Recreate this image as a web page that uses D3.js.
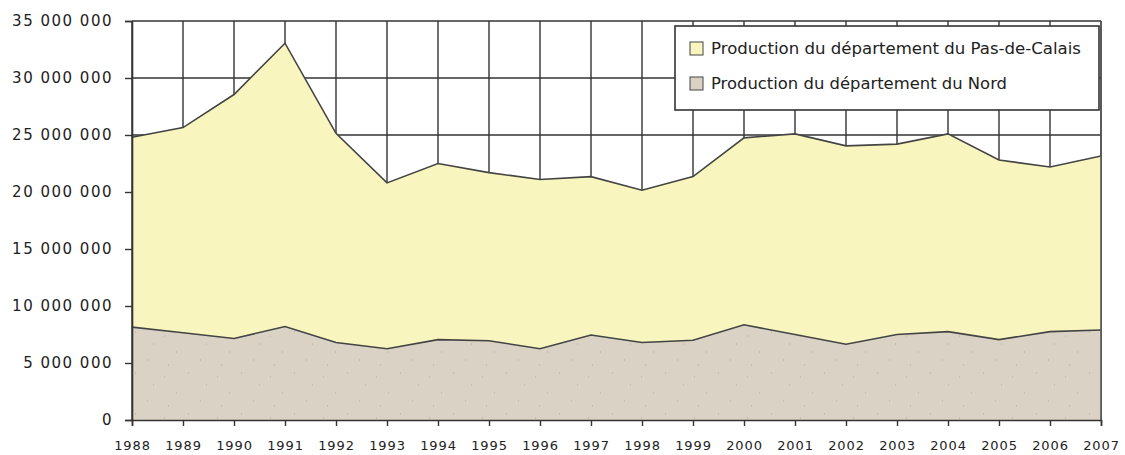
<!DOCTYPE html>
<html>
<head>
    <meta charset="utf-8">
    <title>Production Nord / Pas-de-Calais</title>
    <script src="https://d3js.org/d3.v7.min.js"></script>
    <style>
        body { margin: 0; background: #fff; }
        #chart { width: 1125px; height: 455px; }
        text { font-family: "DejaVu Sans", sans-serif; fill: #222; }
    </style>
</head>
<body>
    <div id="chart"></div>

    <script>
        // values
        const years = [1988, 1989, 1990, 1991, 1992, 1993, 1994, 1995, 1996, 1997,
                       1998, 1999, 2000, 2001, 2002, 2003, 2004, 2005, 2006, 2007];
        const nord = [8150000, 7650000, 7150000, 8200000, 6800000, 6250000, 7050000, 6950000, 6250000, 7450000,
                      6800000, 7000000, 8350000, 7500000, 6650000, 7500000, 7750000, 7050000, 7750000, 7900000];
        const pasDeCalais = [16650000, 18000000, 21400000, 24850000, 18350000, 14550000, 15450000, 14750000, 14850000, 13900000,
                             13350000, 14350000, 16400000, 17600000, 17400000, 16700000, 17350000, 15750000, 14450000, 15250000];
        const yTicks = [0, 5000000, 10000000, 15000000, 20000000, 25000000, 30000000, 35000000];
        const legendLabels = ["Production du département du Pas-de-Calais", "Production du département du Nord"];

        const width = 1125, height = 455;
        const margin = {left: 132, right: 24, top: 21, bottom: 35};

        const svg = d3.select("#chart").append("svg")
            .attr("width", width)
            .attr("height", height);

        const x = d3.scaleLinear()
            .domain([years[0], years[years.length - 1]])
            .range([margin.left, width - margin.right]);

        const y = d3.scaleLinear()
            .domain([0, 35000000])
            .range([height - margin.bottom, margin.top]);

        const fmt = v => d3.format(",")(v).replace(/,/g, " ");

        // grid (hidden under the areas)
        svg.append("g").selectAll("line.v")
            .data(years)
            .join("line")
            .attr("x1", d => x(d)).attr("x2", d => x(d))
            .attr("y1", y(35000000)).attr("y2", y(0))
            .attr("stroke", "#333").attr("stroke-width", 1.4);
        svg.append("g").selectAll("line.h")
            .data(yTicks)
            .join("line")
            .attr("x1", margin.left).attr("x2", width - margin.right)
            .attr("y1", d => y(d)).attr("y2", d => y(d))
            .attr("stroke", "#333").attr("stroke-width", 1.4);

        // stacked areas
        const table = years.map((yr, i) => ({year: yr, nord: nord[i], pdc: pasDeCalais[i]}));
        const series = d3.stack().keys(["nord", "pdc"])(table);
        const fills = {nord: "#dad2c4", pdc: "#f8f6be"};

        const area = d3.area()
            .x(d => x(d.data.year))
            .y0(d => y(d[0]))
            .y1(d => y(d[1]));
        const topLine = d3.line()
            .x(d => x(d.data.year))
            .y(d => y(d[1]));

        svg.append("g").selectAll("path")
            .data(series)
            .join("path")
            .attr("d", area)
            .attr("fill", d => fills[d.key]);

        // faint speckles on the Nord area, like the paper texture
        const defs = svg.append("defs");
        const pat = defs.append("pattern")
            .attr("id", "speck").attr("patternUnits", "userSpaceOnUse")
            .attr("width", 53).attr("height", 41);
        pat.append("rect").attr("width", 53).attr("height", 41).attr("fill", "#dad2c4");
        [[5, 7], [29, 3], [17, 23], [41, 31], [9, 36], [47, 15]].forEach(p => {
            pat.append("rect").attr("x", p[0]).attr("y", p[1]).attr("width", 1).attr("height", 2)
                .attr("fill", "#c9bfae");
        });
        svg.append("path")
            .attr("d", area(series[0]))
            .attr("fill", "url(#speck)");

        svg.append("g").selectAll("path")
            .data(series)
            .join("path")
            .attr("d", topLine)
            .attr("fill", "none")
            .attr("stroke", "#444")
            .attr("stroke-width", 1.6);

        // frame
        svg.append("line")
            .attr("x1", width - margin.right).attr("x2", width - margin.right)
            .attr("y1", y(35000000)).attr("y2", y(0))
            .attr("stroke", "#555").attr("stroke-width", 1.6);

        // y axis
        const yAxis = svg.append("g")
            .attr("transform", `translate(${margin.left},0)`)
            .call(d3.axisLeft(y).tickValues(yTicks).tickFormat(fmt).tickSize(7).tickPadding(12));
        yAxis.select(".domain").attr("stroke", "#333").attr("stroke-width", 1.6);
        yAxis.selectAll(".tick line").attr("stroke", "#333").attr("stroke-width", 1.4);
        yAxis.selectAll("text")
            .attr("font-size", 15)
            .attr("letter-spacing", 1.5)
            .style("font-family", "\"DejaVu Sans\", sans-serif")
            .attr("fill", "#222");

        // x axis
        const xAxis = svg.append("g")
            .attr("transform", `translate(0,${y(0)})`)
            .call(d3.axisBottom(x).tickValues(years).tickFormat(d3.format("d")).tickSize(6).tickPadding(15));
        xAxis.select(".domain").attr("stroke", "#333").attr("stroke-width", 1.6);
        xAxis.selectAll(".tick line").attr("stroke", "#333").attr("stroke-width", 1.4);
        xAxis.selectAll("text")
            .attr("font-size", 13)
            .attr("letter-spacing", 0.9)
            .style("font-family", "\"DejaVu Sans\", sans-serif")
            .attr("fill", "#222");

        // legend
        const lg = svg.append("g");
        lg.append("rect")
            .attr("x", 675).attr("y", 26).attr("width", 424).attr("height", 84)
            .attr("fill", "#fff").attr("stroke", "#333").attr("stroke-width", 1.6);
        const items = [
            {label: legendLabels[0], fill: fills.pdc, y: 42, tw: 370},
            {label: legendLabels[1], fill: fills.nord, y: 77, tw: 296}
        ];
        items.forEach(it => {
            lg.append("rect")
                .attr("x", 690).attr("y", it.y).attr("width", 13).attr("height", 13)
                .attr("fill", it.fill).attr("stroke", "#444").attr("stroke-width", 1);
            lg.append("text")
                .attr("x", 711).attr("y", it.y + 12)
                .attr("font-size", 15)
                .attr("textLength", it.tw)
                .attr("lengthAdjust", "spacingAndGlyphs")
                .text(it.label);
        });
    </script>
</body>
</html>
